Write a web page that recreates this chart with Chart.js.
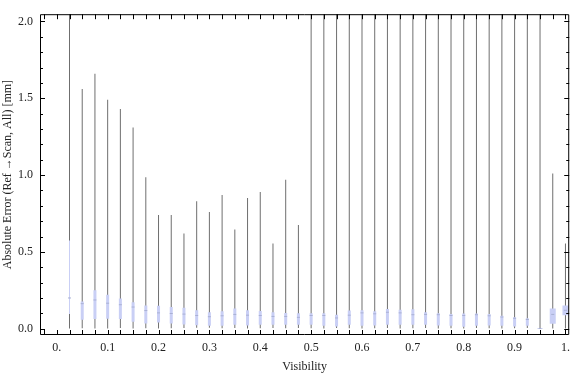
<!DOCTYPE html>
<html>
<head>
<meta charset="utf-8">
<script src="https://cdn.jsdelivr.net/npm/chart.js@4.4.0/dist/chart.umd.min.js"></script>
<style>
  body { margin: 0; background: #fff; }
</style>
</head>
<body>
<canvas id="errorChart" width="576" height="375"></canvas>
<script>
// Data (box-whisker per visibility bin)
const visibility = [0.025, 0.05, 0.075, 0.1, 0.125, 0.15, 0.175, 0.2, 0.225, 0.25,
  0.275, 0.3, 0.325, 0.35, 0.375, 0.4, 0.425, 0.45, 0.475, 0.5,
  0.525, 0.55, 0.575, 0.6, 0.625, 0.65, 0.675, 0.7, 0.725, 0.75,
  0.775, 0.8, 0.825, 0.85, 0.875, 0.9, 0.925, 0.95, 0.975, 1.0];
const whiskerLow = [0.001, 0.003, 0.002, 0.002, 0.004, 0.002, 0.003, 0.002, 0.003, 0.004,
  0.006, 0.006, 0.003, 0.004, 0.002, 0.003, 0.005, 0.003, 0.004, 0.003,
  0.002, 0.004, 0.003, 0.002, 0.003, 0.004, 0.002, 0.003, 0.004, 0.002,
  0.003, 0.002, 0.004, 0.003, 0.002, 0.003, 0.004, 0.0, 0.001, 0.002];
const whiskerHigh = [2.9, 1.56, 1.66, 1.49, 1.43, 1.31, 0.985, 0.74, 0.74, 0.62,
  0.83, 0.76, 0.87, 0.645, 0.85, 0.89, 0.555, 0.97, 0.675, 3.1,
  2.8, 3.4, 2.6, 3.0, 2.9, 3.3, 2.7, 3.2, 2.8, 3.5,
  2.9, 3.1, 2.6, 3.0, 2.8, 3.3, 2.7, 2.9, 1.01, 0.555];
const boxLow = [0.095, 0.059, 0.063, 0.065, 0.063, 0.046, 0.034, 0.040, 0.034, 0.027,
  0.023, 0.019, 0.019, 0.025, 0.021, 0.025, 0.025, 0.025, 0.025, 0.025,
  0.019, 0.015, 0.025, 0.019, 0.021, 0.025, 0.025, 0.025, 0.025, 0.021,
  0.019, 0.013, 0.019, 0.021, 0.019, 0.015, 0.019, 0.0, 0.032, 0.088];
const boxHigh = [0.574, 0.177, 0.250, 0.221, 0.196, 0.172, 0.151, 0.150, 0.141, 0.137,
  0.120, 0.107, 0.114, 0.131, 0.120, 0.115, 0.107, 0.103, 0.101, 0.101,
  0.101, 0.090, 0.118, 0.120, 0.114, 0.128, 0.124, 0.126, 0.107, 0.101,
  0.095, 0.099, 0.099, 0.095, 0.084, 0.074, 0.068, 0.003, 0.132, 0.151];
const medians = [0.20, 0.163, 0.187, 0.166, 0.156, 0.141, 0.118, 0.103, 0.099, 0.095,
  0.086, 0.078, 0.084, 0.093, 0.088, 0.086, 0.080, 0.080, 0.074, 0.086,
  0.086, 0.070, 0.088, 0.103, 0.097, 0.107, 0.103, 0.091, 0.093, 0.091,
  0.086, 0.086, 0.091, 0.084, 0.076, 0.068, 0.060, 0.001, 0.093, 0.120];
const xTickLabels = ['0.', '0.1', '0.2', '0.3', '0.4', '0.5', '0.6', '0.7', '0.8', '0.9', '1.'];
const yTickLabels = ['0.0', '0.5', '1.0', '1.5', '2.0'];

const serif = '"Liberation Serif", "Times New Roman", serif';
const wideBins = [0.95, 0.975, 1.0];
const thinBins = [0.025];

function boxPoints(filter) {
  return visibility
    .map((v, i) => ({ x: v, y: [boxLow[i], boxHigh[i]] }))
    .filter(p => filter(p.x));
}

// Mathematica-style frame with inward ticks on all four sides
const framePlugin = {
  id: 'frame',
  afterDraw(chart) {
    const { ctx, chartArea: a, scales: { x, y } } = chart;
    ctx.save();
    ctx.strokeStyle = '#000';
    ctx.lineWidth = 1;
    ctx.beginPath();
    ctx.rect(a.left + 0.5, a.top + 0.5, a.right - a.left - 1, a.bottom - a.top - 1);
    x.ticks.forEach(t => {
      const px = Math.round(x.getPixelForValue(t.value)) + 0.5;
      ctx.moveTo(px, a.bottom); ctx.lineTo(px, a.bottom - 5);
      ctx.moveTo(px, a.top); ctx.lineTo(px, a.top + 5);
    });
    y.ticks.forEach(t => {
      const major = Math.abs(t.value * 2 - Math.round(t.value * 2)) < 1e-6;
      const len = major ? 5 : 3;
      const py = Math.round(y.getPixelForValue(t.value)) + 0.5;
      ctx.moveTo(a.left, py); ctx.lineTo(a.left + len, py);
      ctx.moveTo(a.right, py); ctx.lineTo(a.right - len, py);
    });
    ctx.stroke();
    ctx.restore();
  }
};

const ctx = document.getElementById('errorChart').getContext('2d');
const errorChart = new Chart(ctx, {
  type: 'bar',
  data: {
    datasets: [
      {
        type: 'scatter',
        label: 'median',
        data: visibility.map((v, i) => ({ x: v, y: medians[i] })),
        pointStyle: 'line',
        radius: 1.5,
        borderColor: '#a9b0d4',
        borderWidth: 1,
        order: 0
      },
      {
        label: 'box',
        data: boxPoints(v => !wideBins.includes(v) && !thinBins.includes(v)),
        backgroundColor: '#c9cff5',
        barThickness: 3,
        inflateAmount: 0,
        grouped: false,
        order: 1
      },
      {
        label: 'box wide',
        data: boxPoints(v => wideBins.includes(v)),
        backgroundColor: '#c9cff5',
        barThickness: 6,
        inflateAmount: 0,
        grouped: false,
        order: 1
      },
      {
        label: 'box thin',
        data: boxPoints(v => thinBins.includes(v)),
        backgroundColor: '#c9cff5',
        barThickness: 1,
        inflateAmount: 0,
        grouped: false,
        order: 1
      },
      {
        label: 'whisker',
        data: visibility.map((v, i) => ({ x: v, y: [whiskerLow[i], whiskerHigh[i]] })),
        backgroundColor: '#6f6f6f',
        barThickness: 1,
        inflateAmount: 0,
        grouped: false,
        order: 2
      }
    ]
  },
  options: {
    responsive: false,
    animation: false,
    layout: { padding: { top: 4, right: 1, left: 0, bottom: 0 } },
    scales: {
      x: {
        type: 'linear',
        min: -0.033,
        max: 1.0074,
        offset: false,
        grid: { display: false, drawTicks: false, offset: false },
        border: { display: false },
        ticks: {
          stepSize: 0.025,
          includeBounds: false,
          autoSkip: false,
          maxRotation: 0,
          padding: 6,
          color: '#222',
          font: { family: serif, size: 12 },
          callback: (value) => {
            const k = value * 10;
            return Math.abs(k - Math.round(k)) < 1e-6 ? xTickLabels[Math.round(k)] : '';
          }
        },
        title: {
          display: true,
          text: 'Visibility',
          color: '#222',
          font: { family: serif, size: 12 },
          padding: { top: 0, bottom: 1 }
        },
        afterFit: (scale) => { scale.height = 40; }
      },
      y: {
        min: -0.041,
        max: 2.047,
        grid: { display: false, drawTicks: false },
        border: { display: false },
        ticks: {
          stepSize: 0.1,
          includeBounds: false,
          autoSkip: false,
          padding: 7,
          color: '#222',
          font: { family: serif, size: 12 },
          callback: (value) => {
            const k = value * 2;
            return Math.abs(k - Math.round(k)) < 1e-6 ? yTickLabels[Math.round(k)] : '';
          }
        },
        title: {
          display: true,
          text: 'Absolute Error (Ref \u2192Scan, All) [mm]',
          color: '#222',
          font: { family: serif, size: 12 },
          padding: { top: 1, bottom: 0 }
        },
        afterFit: (scale) => { scale.width = 40; }
      }
    },
    plugins: {
      legend: { display: false },
      tooltip: { enabled: false }
    }
  },
  plugins: [framePlugin]
});
</script>
</body>
</html>
